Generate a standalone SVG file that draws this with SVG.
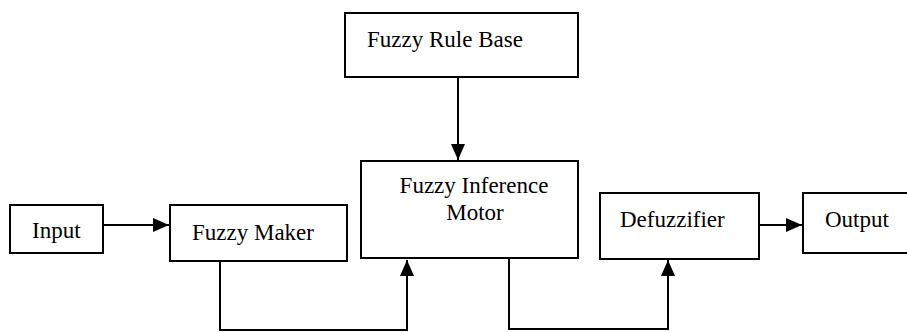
<svg xmlns="http://www.w3.org/2000/svg" width="907" height="332" viewBox="0 0 907 332">
<style>
.box{fill:#fff;stroke:#000;stroke-width:2}
.lbl{font-family:"Liberation Serif","DejaVu Serif",serif;font-size:23px;fill:#000}
.ln{fill:none;stroke:#000;stroke-width:2}
</style>
<defs>
<marker id="ah" viewBox="0 0 16 14" refX="16" refY="7" markerWidth="16" markerHeight="14" markerUnits="userSpaceOnUse" orient="auto">
<path d="M0,0 L16,7 L0,14 Z" fill="#000"/>
</marker>
</defs>
<rect width="907" height="332" fill="#fff"/>
<g id="connectors">
<path class="ln" d="M458,77 V160" marker-end="url(#ah)"/>
<path class="ln" d="M103,225 H169" marker-end="url(#ah)"/>
<path class="ln" d="M220,261 V330 H407 V260" marker-end="url(#ah)"/>
<path class="ln" d="M509,258 V329 H668 V260" marker-end="url(#ah)"/>
<path class="ln" d="M759,225 H802" marker-end="url(#ah)"/>
</g>
<g id="rulebase">
<rect class="box" x="345" y="13" width="233" height="64"/>
<text class="lbl" x="367" y="47">Fuzzy Rule Base</text>
</g>
<g id="input">
<rect class="box" x="10" y="205" width="93" height="48"/>
<text class="lbl" x="32" y="238">Input</text>
</g>
<g id="fuzzymaker">
<rect class="box" x="170" y="205" width="177" height="56"/>
<text class="lbl" x="192" y="240">Fuzzy Maker</text>
</g>
<g id="inference">
<rect class="box" x="361" y="161" width="217" height="97"/>
<text class="lbl" x="474" y="193" text-anchor="middle">Fuzzy Inference</text>
<text class="lbl" x="475" y="220" text-anchor="middle">Motor</text>
</g>
<g id="defuzzifier">
<rect class="box" x="600" y="193" width="159" height="66"/>
<text class="lbl" x="620" y="227">Defuzzifier</text>
</g>
<g id="output">
<rect class="box" x="803" y="193" width="110" height="60"/>
<text class="lbl" x="825" y="227">Output</text>
</g>
</svg>
